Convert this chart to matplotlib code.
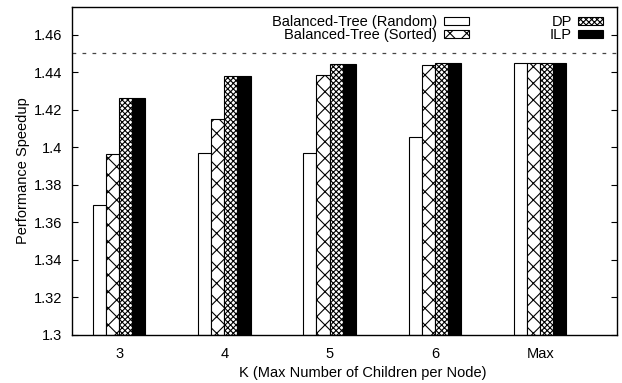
import numpy as np
import matplotlib
matplotlib.use("Agg")
import matplotlib.pyplot as plt

plt.rcParams["font.family"] = ["Liberation Sans", "DejaVu Sans"]
plt.rcParams["hatch.linewidth"] = 0.8

# speedup per K, one list per scheme
k_labels = ["3", "4", "5", "6", "Max"]
random_tree = [1.369, 1.397, 1.397, 1.4055, 1.445]
sorted_tree = [1.3965, 1.415, 1.4385, 1.444, 1.445]
dp = [1.4265, 1.438, 1.4443, 1.4447, 1.445]
ilp = [1.4263, 1.438, 1.4443, 1.4447, 1.445]
upper_bound = 1.45

series = [
    ("Balanced-Tree (Random)", random_tree, "white", None),
    ("Balanced-Tree (Sorted)", sorted_tree, "white", "xx"),
    ("DP", dp, "white", "xxxxxx"),
    ("ILP", ilp, "black", None),
]

fs = 10.5

fig = plt.figure(figsize=(6.22, 3.83), dpi=100)
ax = fig.add_axes([72 / 622, 1 - 334.7 / 383, 545 / 622, 327.7 / 383])

x = np.arange(len(k_labels))
w = 0.125
handles = []
for i, (name, vals, color, hatch) in enumerate(series):
    bars = ax.bar(x + (i - 1.5) * w, np.array(vals) - 1.3, width=w, bottom=1.3,
                  color=color, edgecolor="black", linewidth=0.8, hatch=hatch,
                  label=name)
    handles.append(bars)

ax.axhline(upper_bound, color="#444444", linestyle=(0, (3, 5)), linewidth=0.9)

ax.set_xlim(-0.447, 4.73)
ax.set_ylim(1.3, 1.4748)
ax.set_yticks(np.arange(1.30, 1.461, 0.02))
ax.set_yticklabels(["1.3", "1.32", "1.34", "1.36", "1.38", "1.4", "1.42", "1.44", "1.46"])
ax.set_xticks(x)
ax.set_xticklabels(k_labels)
ax.tick_params(axis="y", direction="in", length=4, width=0.8, right=True,
               labelsize=fs, pad=7)
ax.tick_params(axis="x", length=0, labelsize=fs, pad=9)
for s in ax.spines.values():
    s.set_linewidth(1.0)

ax.set_ylabel("Performance Speedup", fontsize=fs, labelpad=3)
ax.set_xlabel("K (Max Number of Children per Node)", fontsize=fs)
ax.xaxis.set_label_coords(0.533, -0.097)

# two-column key, text to the left of each swatch
ax.legend(handles=handles, ncol=2, loc="upper right",
          bbox_to_anchor=(603 / 622, 1 - 15 / 383),
          bbox_transform=fig.transFigure,
          frameon=False, fontsize=fs, markerfirst=False,
          handlelength=1.7, handleheight=0.45, handletextpad=0.45,
          labelspacing=-0.05, columnspacing=5.55, borderaxespad=0.0,
          borderpad=0.0)

fig.savefig("out.png", dpi=100)
